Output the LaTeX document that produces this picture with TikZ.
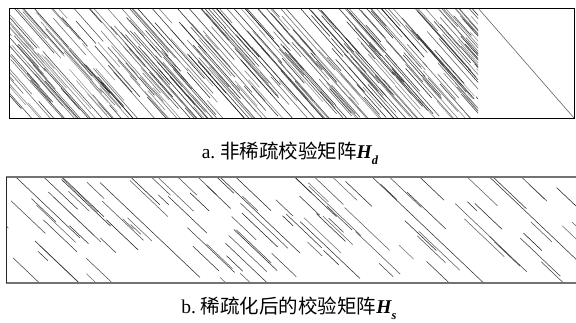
\documentclass[tikz,border=0pt]{standalone}
\usepackage{fontspec}
\setmainfont{Liberation Serif}
\newfontfamily\cjk{Noto Sans CJK SC}
\begin{document}
\begin{tikzpicture}[x=1pt,y=-1pt,
  topline/.style={line width=0.55pt},
  botline/.style={line width=0.55pt},
  captext/.style={font=\fontsize{19.5}{21}\selectfont, inner sep=0pt}]
\useasboundingbox (0,0) rectangle (576,322);
\fill[white] (0,0) rectangle (576,322);
% ---------- top matrix H_d ----------
\pgfmathsetseed{4711}
\begin{scope}
\clip (9,8) rectangle (478,118);
\foreach \i in {1,...,420}{
  \pgfmathsetmacro{\xc}{-20+rnd*520}
  \pgfmathsetmacro{\yc}{8+rnd*110}
  \pgfmathsetmacro{\hl}{6+rnd*28}
  \pgfmathtruncatemacro{\sh}{40+rnd*50}
  \draw[topline,black!\sh] (\xc-\hl,\yc-1.13*\hl) -- (\xc+\hl,\yc+1.13*\hl);
}
\end{scope}
\coordinate (idA) at (478,8);
\coordinate (idB) at (574,118);
\draw[line width=0.6pt,black!60] (idA) -- (idB);
\draw[line width=0.8pt] (9,8) rectangle (574,118);
\node[captext] (capa) at (290,153) {a.\ \cjk 非稀疏校验矩阵\rmfamily\bfseries\itshape H\raisebox{-0.3em}{\fontsize{12.5}{12.5}\selectfont d}};
% ---------- bottom matrix H_s ----------
\pgfmathsetseed{2024}
\begin{scope}
\clip (6,177) rectangle (576,283);
\foreach \i in {1,...,100}{
  \pgfmathsetmacro{\xc}{-10+rnd*600}
  \pgfmathsetmacro{\yc}{177+rnd*106}
  \pgfmathsetmacro{\hl}{4+rnd*22}
  \pgfmathtruncatemacro{\sh}{55+rnd*35}
  \draw[botline,black!\sh] (\xc-\hl,\yc-0.95*\hl) -- (\xc+\hl,\yc+0.95*\hl);
}
\foreach \xc/\yc/\hl in {40/200/40, 150/230/50, 260/215/40, 430/232/58, 540/225/50, 330/250/30}{
  \draw[botline,black!80] (\xc-\hl,\yc-0.95*\hl) -- (\xc+\hl,\yc+0.95*\hl);
}
\end{scope}
\draw[line width=1.5pt,black!55] (6,177) -- (577,177);
\draw[line width=1.5pt,black!55] (6,283) -- (577,283);
\draw[line width=1pt,black!85] (6,177) -- (6,283);
\node[captext] (capb) at (289,308) {b.\ \cjk 稀疏化后的校验矩阵\rmfamily\bfseries\itshape H\raisebox{-0.3em}{\fontsize{12.5}{12.5}\selectfont s}};
\end{tikzpicture}
\end{document}
